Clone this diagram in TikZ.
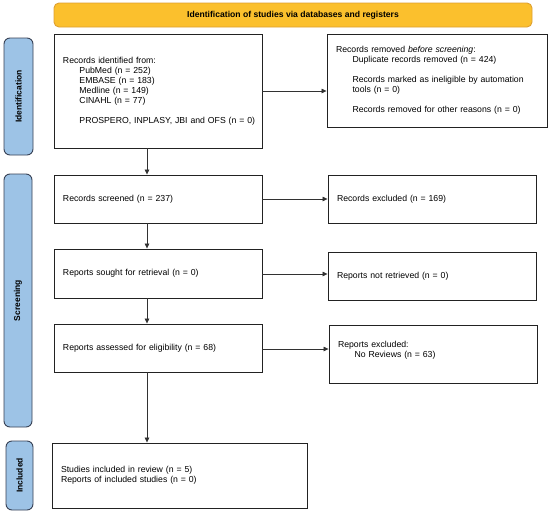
\documentclass[tikz,border=0pt]{standalone}
\usepackage{fontspec}
\setmainfont{Liberation Sans}
\usetikzlibrary{arrows.meta,calc}
\definecolor{bannerfill}{RGB}{251,192,45}
\definecolor{bannerdraw}{RGB}{222,160,50}
\definecolor{sidefill}{RGB}{157,195,230}
\definecolor{sidedraw}{RGB}{55,65,85}
\definecolor{boxdraw}{RGB}{34,34,34}
\definecolor{arrowcol}{RGB}{50,50,50}
\newcommand\ind{\hspace*{16.5pt}}
\tikzset{
  txt/.style={font=\fontsize{8.7}{10}\selectfont},
  flowbox/.style={txt, draw=boxdraw, line width=0.9pt, fill=white, rectangle,
    inner xsep=9pt, inner ysep=0pt, align=left},
  sidelab/.style={draw=sidedraw, line width=0.9pt, fill=sidefill, rounded corners=6pt,
    rotate=90, font=\bfseries\fontsize{8.5}{10}\selectfont, inner sep=0pt},
  banner/.style={draw=bannerdraw, line width=0.9pt, fill=bannerfill, rounded corners=5pt,
    font=\bfseries\fontsize{8.6}{10}\selectfont, inner sep=0pt},
  flowarrow/.style={draw=arrowcol, line width=0.7pt, -{Triangle[length=5pt,width=4.5pt]}},
}
\begin{document}
\begin{tikzpicture}[x=1pt,y=-1pt]
\useasboundingbox (0,0) rectangle (550,515);
\fill[white] (0,0) rectangle (550,515);

% banner
\node[banner, minimum width=478, minimum height=24] (ban) at (293,15)
  {Identification of studies via databases and registers};

% side labels
\node[sidelab, minimum width=117, minimum height=29] (lid) at (18.5,96.5) {Identification};
\node[sidelab, minimum width=253, minimum height=28] (lsc) at (18,300.5) {Screening};
\node[sidelab, minimum width=69, minimum height=27] (lin) at (19.5,475.5) {Included};

% left column
\node[flowbox, text width=190, minimum height=114] (rec) at (158,91)
  {Records identified from:\\
   \ind PubMed (n = 252)\\
   \ind EMBASE (n = 183)\\
   \ind Medline (n = 149)\\
   \ind CINAHL (n = 77)\\[10pt]
   \ind\mbox{PROSPERO, INPLASY, JBI and OFS (n = 0)}};
\node[flowbox, text width=190, minimum height=48] (scr) at (158,199)
  {Records screened (n = 237)};
\node[flowbox, text width=190, minimum height=49] (sou) at (158,273.5)
  {Reports sought for retrieval (n = 0)};
\node[flowbox, text width=190, minimum height=48] (ass) at (158,348)
  {Reports assessed for eligibility (n = 68)};
\node[flowbox, text width=237, minimum height=65] (inc) at (179.5,475.5)
  {Studies included in review (n = 5)\\
   Reports of included studies (n = 0)};

% right column
\node[flowbox, text width=202, minimum height=93] (rem) at (437,80.5)
  {Records removed \emph{before screening}:\\
   \ind Duplicate records removed (n = 424)\\[10pt]
   \ind\mbox{Records marked as ineligible by automation}\\
   \ind tools (n = 0)\\[10pt]
   \ind Records removed for other reasons (n = 0)};
\node[flowbox, text width=190, minimum height=48] (exc) at (432,199)
  {Records excluded (n = 169)};
\node[flowbox, text width=190, minimum height=48] (nre) at (432,276)
  {Reports not retrieved (n = 0)};
\node[flowbox, text width=190, minimum height=58] (rex) at (433,354)
  {Reports excluded:\\
   \ind No Reviews (n = 63)\\
   \mbox{}};

% vertical axis for down arrows
\coordinate (ax) at (147,0);

% arrows
\draw[flowarrow] (rec.east) -- (rec.east -| rem.west);
\draw[flowarrow] (scr.east) -- (scr.east -| exc.west);
\draw[flowarrow] ($(sou.east)+(0,0.5)$) -- ($(sou.east -| nre.west)+(0,0.5)$);
\draw[flowarrow] ($(ass.east)+(0,1)$) -- ($(ass.east -| rex.west)+(0,1)$);

\draw[flowarrow] (rec.south -| ax) -- (scr.north -| ax);
\draw[flowarrow] (scr.south -| ax) -- (sou.north -| ax);
\draw[flowarrow] (sou.south -| ax) -- (ass.north -| ax);
\draw[flowarrow] (ass.south -| ax) -- (inc.north -| ax);
\end{tikzpicture}
\end{document}
